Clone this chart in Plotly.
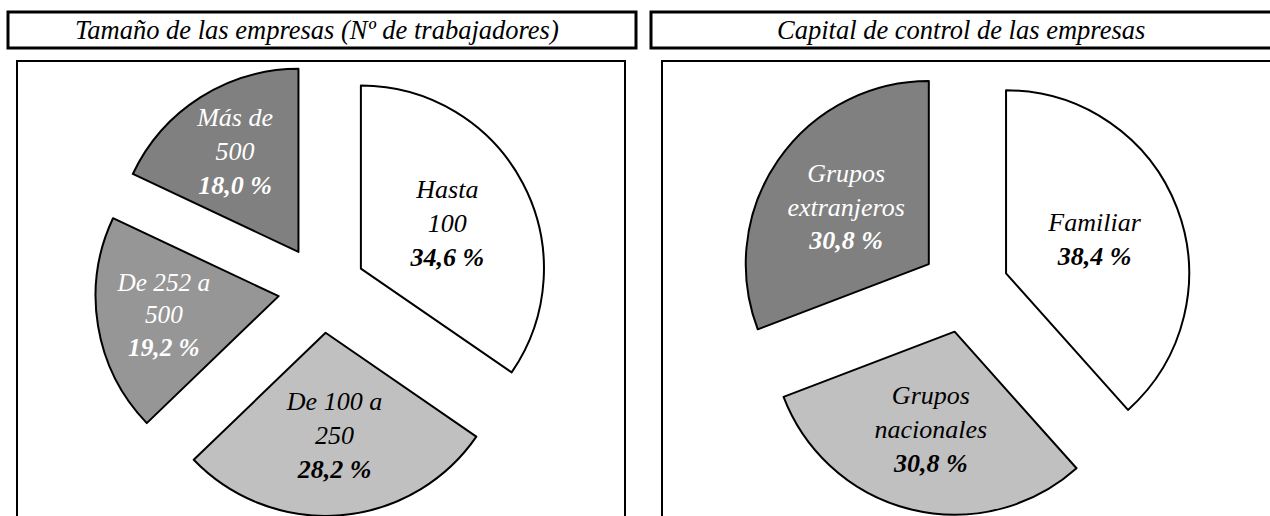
import plotly.graph_objects as go

W, H = 1270, 516

# datos
tamano_labels = ["Hasta<br>100", "De 100 a<br>250", "De 252 a<br>500", "Más de<br>500"]
tamano_values = [34.6, 28.2, 19.2, 18.0]
tamano_colors = ["#FFFFFF", "#C0C0C0", "#969696", "#808080"]
tamano_text_colors = ["black", "black", "white", "white"]

capital_labels = ["Familiar", "Grupos<br>nacionales", "Grupos<br>extranjeros"]
capital_values = [38.4, 30.8, 30.8]
capital_colors = ["#FFFFFF", "#C0C0C0", "#808080"]
capital_text_colors = ["black", "black", "white"]

titles = ["Tamaño de las empresas (Nº de trabajadores)", "Capital de control de las empresas"]

FONT = "Liberation Serif"


def fmt(v):
    return f"{v:.1f}".replace(".", ",") + " %"


def px_x(x):
    return x / W


def px_y(y):
    return 1 - y / H


fig = go.Figure()

for labels, values, colors, tcolors, dom in [
    (tamano_labels, tamano_values, tamano_colors, tamano_text_colors, [82, 562]),
    (capital_labels, capital_values, capital_colors, capital_text_colors, [725, 1205]),
]:
    fig.add_trace(go.Pie(
        labels=[l.replace("<br>", " ") for l in labels],
        values=values,
        text=[f"<i>{l}<br><b>{fmt(v)}</b></i>" for l, v in zip(labels, values)],
        textinfo="text",
        textposition="inside",
        insidetextorientation="horizontal",
        textfont=dict(family=FONT, size=26, color=tcolors),
        marker=dict(colors=colors, line=dict(color="black", width=2)),
        pull=[0.24] * len(values),
        sort=False,
        direction="clockwise",
        rotation=0,
        showlegend=False,
        hoverinfo="label+percent",
        domain=dict(x=[px_x(dom[0]), px_x(dom[1])], y=[0, px_y(62)]),
    ))

# cajas de titulo y marcos
boxes = [
    (8, 12, 636, 48, 3), (651, 12, 1280, 48, 3),
    (17, 61, 625, 540, 2), (662, 61, 1280, 540, 2),
]
for x0, y0, x1, y1, w in boxes:
    fig.add_shape(type="rect", xref="paper", yref="paper",
                  x0=px_x(x0), x1=px_x(x1), y0=px_y(y0), y1=px_y(y1),
                  line=dict(color="black", width=w), fillcolor="rgba(0,0,0,0)")

for t, cx in zip(titles, [317, 961]):
    fig.add_annotation(text=f"<i>{t}</i>", x=px_x(cx), y=px_y(30), xref="paper", yref="paper",
                       xanchor="center", yanchor="middle",
                       showarrow=False, font=dict(family=FONT, size=26.5, color="black"))

fig.update_layout(
    width=W, height=H,
    margin=dict(l=0, r=0, t=0, b=0),
    paper_bgcolor="white", plot_bgcolor="white",
)

fig.write_html("out.html", config={"displayModeBar": False},
               post_script="document.body.style.margin='0';")
